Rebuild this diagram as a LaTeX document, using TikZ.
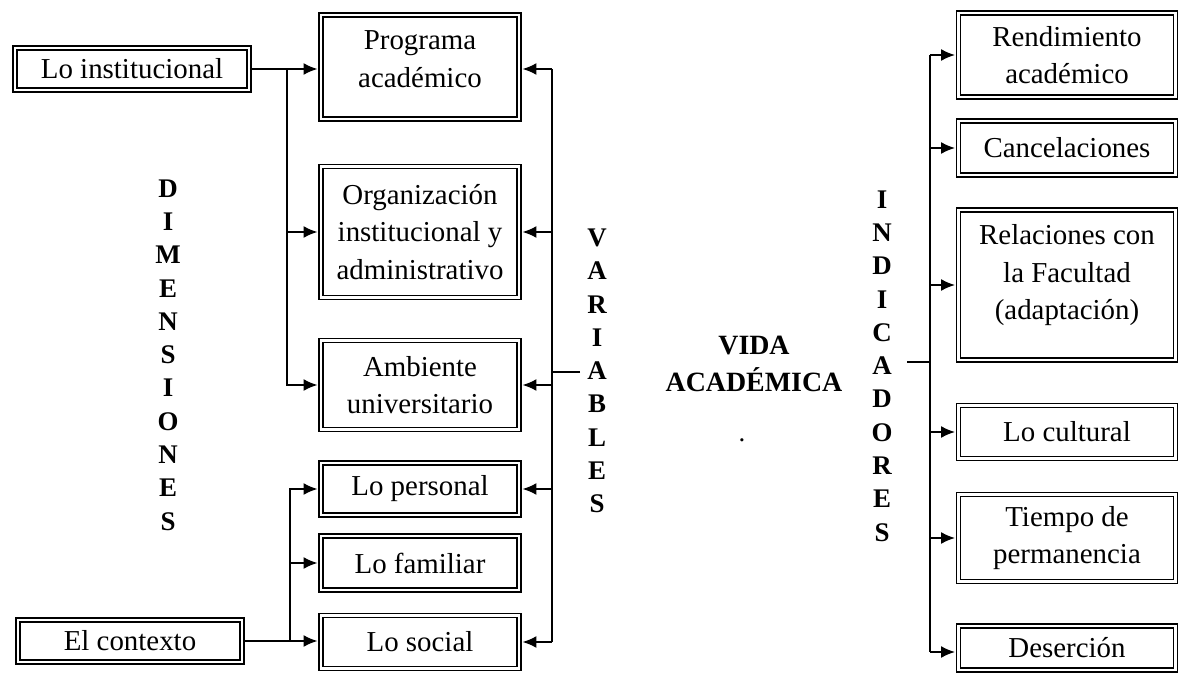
\documentclass[tikz,border=0pt]{standalone}
\usepackage{fontspec}
\setmainfont{Liberation Serif}
\usetikzlibrary{arrows.meta}
\begin{document}
\begin{tikzpicture}[x=1bp,y=-1bp,
    caja/.style ={draw, double, double distance=2.4bp, line width=1.5bp, align=center, inner sep=0pt, font=\fontsize{29}{37.5}\selectfont},
    letras/.style ={align=center, inner sep=0pt, font=\bfseries\fontsize{27}{33.4}\selectfont},
    flecha/.style ={line width=1.8bp, -{Latex[length=14bp,width=12bp]}, shorten >=2.7bp},
    linea/.style ={line width=1.8bp}]
   \useasboundingbox (0,0) rectangle (1183,676);

   \node[caja, minimum width=234bp, minimum height=42bp] (inst) at (132,69) {Lo institucional};
   \node[caja, minimum width=224bp, minimum height=42bp] (ctx) at (130,641) {El contexto};

   \node[caja, minimum width=198bp, minimum height=104bp] (prog) at (420,67) {Programa\\acad\'emico\rule[-16bp]{0pt}{16bp}};
   \node[caja, minimum width=198bp, minimum height=131bp] (org) at (420,232) {Organizaci\'on\\institucional y\\administrativo};
   \node[caja, minimum width=198bp, minimum height=89bp] (amb) at (420,385) {Ambiente\\universitario};
   \node[caja, minimum width=198bp, minimum height=52bp] (pers) at (420,489) {Lo personal};
   \node[caja, minimum width=198bp, minimum height=54bp] (fam) at (420,563) {Lo familiar};
   \node[caja, minimum width=198bp, minimum height=53bp] (soc) at (420,642) {Lo social};

   \node[caja, minimum width=217bp, minimum height=84bp] (rend) at (1067,55) {Rendimiento\\acad\'emico};
   \node[caja, minimum width=217bp, minimum height=54bp] (canc) at (1067,148) {Cancelaciones};
   \node[caja, minimum width=217bp, minimum height=150bp] (rel) at (1067,285) {Relaciones con\\la Facultad\\(adaptaci\'on)\rule[-26bp]{0pt}{26bp}};
   \node[caja, minimum width=217bp, minimum height=53bp] (cult) at (1067,432) {Lo cultural};
   \node[caja, minimum width=217bp, minimum height=87bp] (tiem) at (1067,538) {Tiempo de\\permanencia};
   \node[caja, minimum width=217bp, minimum height=44bp] (des) at (1067,648) {Deserci\'on};

   \node[letras] (dim) at (168,355) {D\\I\\M\\E\\N\\S\\I\\O\\N\\E\\S};
   \node[letras] (var) at (597,371) {V\\A\\R\\I\\A\\B\\L\\E\\S};
   \node[letras] (ind) at (882,366) {I\\N\\D\\I\\C\\A\\D\\O\\R\\E\\S};
   \node[align=center, inner sep=0pt, font=\bfseries\fontsize{28}{37}\selectfont] (vida) at (754,364) {VIDA\\ACAD\'EMICA};
   \node[inner sep=0pt, font=\fontsize{27}{37}\selectfont] (punto) at (742,440) {.};

   \coordinate (bi) at (287,69);
   \coordinate (bc) at (290,641);
   \coordinate (bv) at (552,69);
   \coordinate (bv2) at (552,642);
   \coordinate (va) at (580,372);
   \coordinate (bd) at (930,55);
   \coordinate (bd2) at (930,652);
   \coordinate (ia) at (907,362);

   \draw[flecha] (inst.east) -- (inst.east -| prog.west);
   \draw[flecha] (bi) |- (org.west);
   \draw[flecha] (bi) |- (amb.west);

   \draw[flecha] (ctx.east) -- (ctx.east -| soc.west);
   \draw[flecha] (bc) |- (pers.west);
   \draw[flecha] (bc) |- (fam.west);

   \draw[linea] (bv) -- (bv2);
   \draw[linea] (va) -- (va -| bv);
   \draw[flecha] (bv) -- (bv -| prog.east);
   \draw[flecha] (bv |- org.east) -- (org.east);
   \draw[flecha] (bv |- amb.east) -- (amb.east);
   \draw[flecha] (bv |- pers.east) -- (pers.east);
   \draw[flecha] (bv2) -- (bv2 -| soc.east);

   \draw[linea] (bd) -- (bd2);
   \draw[linea] (ia) -- (ia -| bd);
   \draw[flecha] (bd) -- (bd -| rend.west);
   \draw[flecha] (bd |- canc.west) -- (canc.west);
   \draw[flecha] (bd |- rel.west) -- (rel.west);
   \draw[flecha] (bd |- cult.west) -- (cult.west);
   \draw[flecha] (bd |- tiem.west) -- (tiem.west);
   \draw[flecha] (bd2) -- (bd2 -| des.west);
 \end{tikzpicture}
\end{document}
